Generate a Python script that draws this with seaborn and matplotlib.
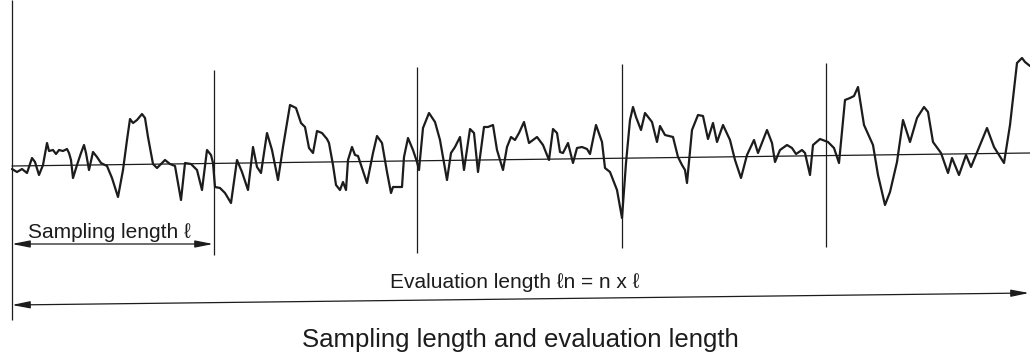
import matplotlib
matplotlib.use("Agg")
import matplotlib.pyplot as plt
import seaborn as sns
import pandas as pd

# ---- data (horizontal position, profile height; image-like units, y grows downward)
profile_x = [12, 17, 22, 27, 32, 35, 39, 43, 47, 49, 53, 56, 59, 63, 67, 69, 71, 73, 77, 81, 84, 86, 89, 93, 97,
             101, 107, 112, 118, 123, 127, 130, 133, 137, 142, 145, 148, 153, 157, 160, 165, 170, 175, 181, 185,
             191, 197, 202, 207, 211, 213, 215, 220, 225, 231, 237, 242, 248, 253, 257, 261, 267, 272, 278, 283,
             290, 296, 301, 305, 309, 313, 317, 322, 327, 329, 333, 336, 340, 343, 346, 348, 352, 355, 358, 367,
             373, 377, 382, 387, 391, 393, 402, 404, 408, 413, 417, 419, 423, 429, 435, 440, 447, 451, 455, 460,
             464, 470, 474, 478, 484, 488, 493, 497, 503, 507, 511, 515, 519, 524, 529, 537, 543, 549, 553, 557,
             560, 563, 568, 573, 577, 582, 587, 590, 596, 602, 605, 610, 617, 622, 626, 630, 633, 636, 641, 645,
             652, 657, 660, 665, 673, 678, 682, 685, 687, 692, 698, 703, 708, 713, 717, 723, 730, 735, 741, 747,
             754, 758, 767, 772, 775, 780, 787, 792, 796, 802, 805, 810, 813, 820, 828, 834, 839, 845, 850, 854,
             858, 864, 873, 878, 885, 890, 897, 903, 910, 917, 924, 928, 933, 941, 948, 952, 959, 966, 971, 980,
             987, 994, 1004, 1010, 1017, 1022, 1025, 1030]
profile_y = [169, 172, 169, 173, 158, 162, 175, 165, 143, 151, 150, 154, 150, 151, 149, 153, 160, 178, 165, 153,
             145, 153, 170, 152, 157, 163, 166, 178, 197, 170, 140, 119, 123, 120, 114, 118, 137, 164, 168, 165,
             160, 164, 166, 200, 163, 164, 170, 190, 150, 155, 163, 187, 188, 193, 203, 160, 172, 190, 147, 167,
             173, 133, 150, 180, 147, 105, 108, 123, 127, 148, 153, 131, 133, 139, 143, 165, 185, 190, 182, 190,
             160, 147, 155, 156, 183, 153, 136, 143, 172, 193, 187, 187, 157, 138, 150, 162, 170, 128, 113, 122,
             140, 180, 153, 147, 137, 170, 129, 133, 172, 127, 127, 125, 150, 170, 147, 137, 140, 133, 122, 143,
             137, 145, 160, 129, 133, 152, 153, 143, 163, 148, 147, 149, 154, 125, 142, 168, 172, 190, 218, 163,
             120, 107, 117, 130, 113, 122, 142, 126, 135, 137, 157, 165, 170, 183, 130, 115, 116, 139, 123, 142,
             125, 140, 160, 178, 155, 140, 153, 130, 143, 162, 150, 145, 148, 154, 150, 153, 175, 145, 139, 142,
             148, 163, 100, 98, 96, 87, 125, 145, 175, 205, 192, 162, 120, 142, 118, 107, 112, 142, 153, 173, 158,
             175, 155, 167, 145, 128, 147, 163, 125, 63, 58, 62, 66]

mean_x = [12, 1030]
mean_y = [166, 153]

boundary_x = [214, 417, 622, 826]
boundary_top = [70, 67, 64, 63]
boundary_bottom = [255, 253, 248, 247]

sampling_label = "Sampling length \u2113"
evaluation_label = "Evaluation length \u2113n = n x \u2113"
caption = "Sampling length and evaluation length"

# ---- drawing
sns.set_theme(style="white")
plt.rcParams['font.family'] = ['Liberation Sans', 'DejaVu Sans']
ink = "#1c1c1c"

fig = plt.figure(figsize=(10.30, 3.62), dpi=100)
ax = fig.add_axes([0, 0, 1, 1])

profile = pd.DataFrame({"x": profile_x, "y": profile_y})
sns.lineplot(data=profile, x="x", y="y", sort=False, estimator=None, color=ink, lw=1.6, ax=ax)
sns.lineplot(x=mean_x, y=mean_y, sort=False, estimator=None, color=ink, lw=0.9, ax=ax)

# left reference line and sampling-length boundaries
ax.vlines([12], [0], [320], color=ink, lw=0.9)
ax.vlines(boundary_x, boundary_top, boundary_bottom, color=ink, lw=0.9)

# dimension arrows
arrow_style = dict(arrowstyle="<|-|>,head_length=0.9,head_width=0.18", color=ink, lw=0.9,
                   shrinkA=0, shrinkB=0)
ax.annotate("", xy=(12, 244), xytext=(213, 244), arrowprops=arrow_style)
ax.annotate("", xy=(12, 305), xytext=(1029, 293), arrowprops=arrow_style)

ax.text(28, 232, sampling_label, fontsize=15, color=ink, va="center", ha="left")
ax.text(390, 282, evaluation_label, fontsize=15, color=ink, va="center", ha="left")
ax.text(520, 340, caption, fontsize=18.5, color=ink, va="center", ha="center")

ax.set_xlim(0, 1030)
ax.set_ylim(362, 0)
ax.axis("off")

fig.savefig("out.png", dpi=100, facecolor="white")
